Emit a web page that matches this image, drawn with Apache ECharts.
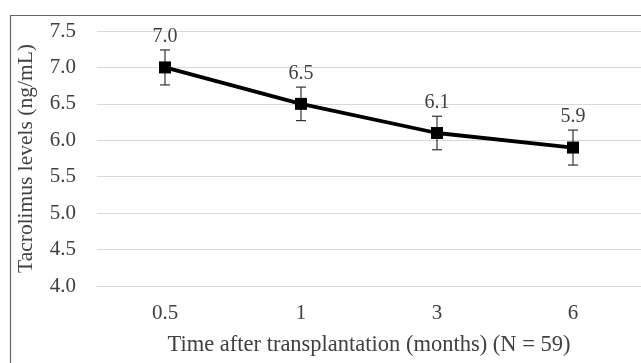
<!DOCTYPE html>
<html><head><meta charset="utf-8">
<script src="https://cdn.jsdelivr.net/npm/echarts@6/dist/echarts.min.js"></script>
<style>html,body{margin:0;padding:0;background:#fff}#c{width:641px;height:363px}</style>
</head><body><div id="c"></div>
<script>
const categories = ['0.5', '1', '3', '6'];
const means = [7.0, 6.5, 6.1, 5.9];
const errors = [0.24, 0.23, 0.23, 0.24];
const yTicks = [4.0, 4.5, 5.0, 5.5, 6.0, 6.5, 7.0, 7.5];
const xTitle = 'Time after transplantation (months) (N = 59)';
const yTitle = 'Tacrolimus levels (ng/mL)';

const FONT = '"Liberation Serif", "Times New Roman", serif';
const TXT = '#404040';
const chart = echarts.init(document.getElementById('c'), null, {renderer: 'canvas'});
const errData = categories.map((c, i) => [i, means[i] - errors[i], means[i] + errors[i], means[i]]);
chart.setOption({
  animation: false,
  backgroundColor: '#fff',
  graphic: [{
    type: 'rect', left: 8, top: 13, shape: {width: 700, height: 400},
    style: {fill: 'none', stroke: '#666', lineWidth: 1.2}, silent: true, z: 0
  }],
  grid: {left: 97, right: 0, top: 31, bottom: 77},
  xAxis: {
    type: 'category', data: categories,
    axisLine: {lineStyle: {color: '#d9d9d9', width: 1}},
    axisTick: {show: false},
    axisLabel: {color: TXT, fontFamily: FONT, fontSize: 21, margin: 17},
    name: xTitle, nameLocation: 'middle', nameGap: 48,
    nameTextStyle: {color: TXT, fontFamily: FONT, fontSize: 22.5}
  },
  yAxis: {
    type: 'value', min: yTicks[0], max: yTicks[yTicks.length - 1], interval: 0.5,
    axisLine: {show: false}, axisTick: {show: false},
    splitLine: {lineStyle: {color: '#d9d9d9', width: 1}},
    axisLabel: {color: TXT, fontFamily: FONT, fontSize: 21, margin: 21,
      formatter: v => v.toFixed(1)},
    name: yTitle, nameLocation: 'middle', nameGap: 60, nameRotate: 90,
    nameTextStyle: {color: TXT, fontFamily: FONT, fontSize: 21.5}
  },
  series: [
    {
      type: 'line', data: means, symbol: 'rect', symbolSize: 12,
      lineStyle: {color: '#000', width: 3.8}, itemStyle: {color: '#000'}, z: 3
    },
    {
      type: 'custom', data: errData, z: 2,
      renderItem: function (params, api) {
        const x = api.coord([api.value(0), api.value(1)])[0];
        const lo = api.coord([api.value(0), api.value(1)])[1];
        const hi = api.coord([api.value(0), api.value(2)])[1];
        const cap = 5;
        const st = {stroke: '#333', lineWidth: 1.2};
        return {type: 'group', children: [
          {type: 'line', shape: {x1: x, y1: lo, x2: x, y2: hi}, style: st},
          {type: 'line', shape: {x1: x - cap, y1: lo, x2: x + cap, y2: lo}, style: st},
          {type: 'line', shape: {x1: x - cap, y1: hi, x2: x + cap, y2: hi}, style: st},
          {type: 'text', x: x, y: hi - 3, style: {text: api.value(3).toFixed(1), fill: TXT,
            font: '20px ' + FONT, align: 'center', verticalAlign: 'bottom'}}
        ]};
      }
    }
  ]
});
</script></body></html>
